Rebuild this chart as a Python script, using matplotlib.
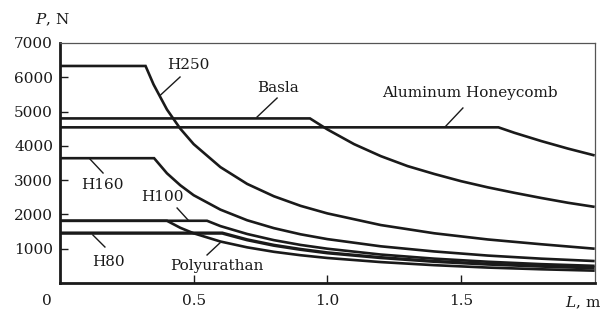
import matplotlib
matplotlib.use("Agg")
import matplotlib.pyplot as plt
import matplotlib.transforms as mtransforms

plt.rcParams['font.family'] = ['DejaVu Serif']
plt.rcParams['mathtext.fontset'] = 'dejavuserif'

# ---- data ----
L_H250 = [0.0, 0.32, 0.35, 0.40, 0.45, 0.50, 0.60, 0.70, 0.80, 0.90, 1.00, 1.20, 1.40, 1.60, 1.80, 2.00]
P_H250 = [6330, 6330, 5790, 5060, 4500, 4050, 3380, 2890, 2530, 2250, 2030, 1690, 1450, 1270, 1130, 1000]

L_Basla = [0.0, 0.935, 1.00, 1.10, 1.20, 1.30, 1.40, 1.50, 1.60, 1.70, 1.80, 1.90, 2.00]
P_Basla = [4800, 4800, 4480, 4050, 3700, 3410, 3180, 2970, 2790, 2630, 2480, 2340, 2220]

L_AH = [0.0, 1.64, 1.70, 1.80, 1.90, 2.00]
P_AH = [4540, 4540, 4380, 4140, 3920, 3720]

L_H160 = [0.0, 0.352, 0.40, 0.45, 0.50, 0.60, 0.70, 0.80, 0.90, 1.00, 1.20, 1.40, 1.60, 1.80, 2.00]
P_H160 = [3640, 3640, 3200, 2850, 2560, 2140, 1830, 1600, 1420, 1280, 1070, 920, 800, 710, 640]

L_H100 = [0.0, 0.55, 0.60, 0.70, 0.80, 0.90, 1.00, 1.20, 1.40, 1.60, 1.80, 2.00]
P_H100 = [1815, 1815, 1660, 1430, 1250, 1110, 1000, 830, 710, 620, 550, 500]

L_Poly = [0.0, 0.40, 0.45, 0.50, 0.60, 0.70, 0.80, 0.90, 1.00, 1.20, 1.40, 1.60, 1.80, 2.00]
P_Poly = [1815, 1815, 1610, 1450, 1210, 1040, 910, 810, 730, 610, 520, 450, 400, 360]

L_H80 = [0.0, 0.607, 0.70, 0.80, 0.90, 1.00, 1.20, 1.40, 1.60, 1.80, 2.00]
P_H80 = [1455, 1455, 1260, 1100, 980, 880, 740, 630, 550, 490, 440]

y_ticks = [1000, 2000, 3000, 4000, 5000, 6000, 7000]
x_ticks = [0.0, 0.5, 1.0, 1.5, 2.0]
x_tick_labels = ['0', '0.5', '1.0', '1.5', '$L$, m']

# ---- figure ----
fig = plt.figure(figsize=(6.07, 3.10), dpi=100)
ax = fig.add_axes([60/607, 27/310, 534.7/607, 240/310])

lw = 1.9
for Ls, Ps, w in [(L_H250, P_H250, lw), (L_Basla, P_Basla, lw), (L_AH, P_AH, lw),
                  (L_H160, P_H160, lw), (L_H100, P_H100, lw), (L_Poly, P_Poly, lw),
                  (L_H80, P_H80, 2.4)]:
    ax.plot(Ls, Ps, color='#1a1a1a', lw=w, solid_joinstyle='miter', solid_capstyle='butt')

ax.set_xlim(0, 2.0)
ax.set_ylim(0, 7000)
ax.set_yticks(y_ticks)
ax.set_yticklabels([str(v) for v in y_ticks])
ax.set_xticks(x_ticks)
ax.set_xticklabels(x_tick_labels)
ax.tick_params(axis='both', direction='in', length=6, width=1.0, labelsize=11, color='#1a1a1a',
               labelcolor='#1a1a1a')
ax.tick_params(axis='y', pad=5)
ax.tick_params(axis='x', pad=8)

# shift the '0' and 'L, m' labels like in the original
labels = ax.get_xticklabels()
labels[0].set_transform(labels[0].get_transform() + mtransforms.ScaledTranslation(-13/100, 0, fig.dpi_scale_trans))
labels[-1].set_transform(labels[-1].get_transform() + mtransforms.ScaledTranslation(-12/100, 0, fig.dpi_scale_trans))
ax.xaxis.get_major_ticks()[0].tick1line.set_visible(False)
ax.xaxis.get_major_ticks()[-1].tick1line.set_visible(False)
ax.yaxis.get_major_ticks()[-1].tick1line.set_visible(False)

for s in ['left', 'bottom']:
    ax.spines[s].set_linewidth(2.0)
    ax.spines[s].set_color('#1a1a1a')
for s in ['top', 'right']:
    ax.spines[s].set_linewidth(0.9)
    ax.spines[s].set_color('#555555')

fig.text(52/607, 1 - 20/310, '$P$, N', ha='center', va='center', fontsize=11, color='#1a1a1a')

# ---- labels with leader lines ----
annots = [
    ('H250', (0.479, 6357), (0.449, 6008), (0.374, 5468)),
    ('Basla', (0.815, 5687), (0.812, 5395), (0.737, 4841)),
    ('Aluminum Honeycomb', (1.534, 5541), (1.507, 5104), (1.440, 4550)),
    ('H160', (0.157, 2858), (0.161, 3208), (0.112, 3616)),
    ('H100', (0.382, 2508), (0.438, 2187), (0.479, 1837)),
    ('H80', (0.180, 612), (0.168, 1050), (0.123, 1400)),
    ('Polyurathan', (0.587, 496), (0.550, 817), (0.598, 1167)),
]
for txt, tpos, p1, p2 in annots:
    ax.text(tpos[0], tpos[1], txt, ha='center', va='center', fontsize=11, color='#1a1a1a')
    ax.plot([p1[0], p2[0]], [p1[1], p2[1]], color='#1a1a1a', lw=1.0)

fig.savefig('out.png', dpi=100)
